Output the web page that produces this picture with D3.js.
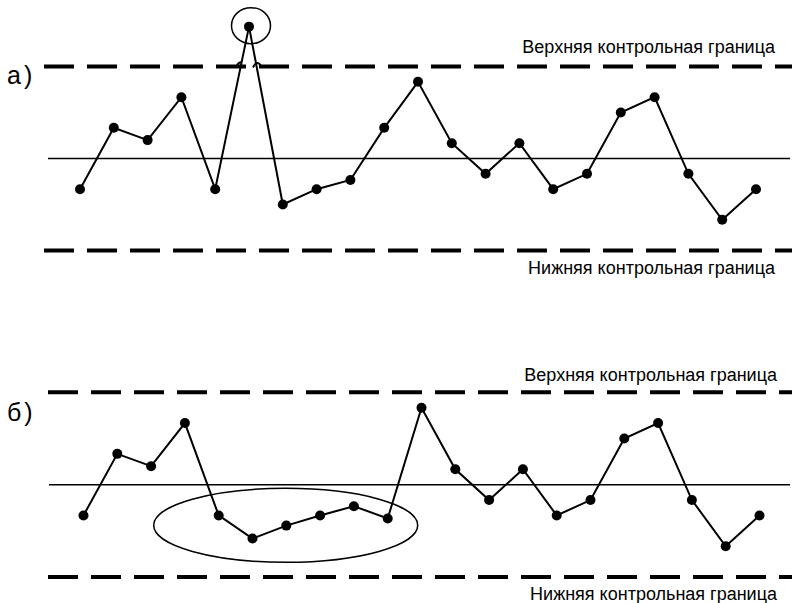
<!DOCTYPE html>
<html>
<head>
<meta charset="utf-8">
<script src="https://cdn.jsdelivr.net/npm/d3@7"></script>
<style>
html,body{margin:0;padding:0;background:#fff;}
svg{display:block;}
text{font-family:"Liberation Sans",Arial,sans-serif;fill:#000;}
</style>
</head>
<body>
<svg id="chart" width="792" height="603"></svg>
<script>
// ---- data ----
const samples = d3.range(21); // sample numbers 0..20
const valuesA = [-1, 1, 0.6, 2, -1, 4.3, -1.5, -1, -0.7, 1, 2.5, 0.5, -0.5, 0.5, -1, -0.5, 1.5, 2, -0.5, -2, -1];
const valuesB = [-1, 1, 0.6, 2, -1, -1.75, -1.33, -1, -0.7, -1.1, 2.5, 0.5, -0.5, 0.5, -1, -0.5, 1.5, 2, -0.5, -2, -1];
const upperLimit = 3, centerLine = 0, lowerLimit = -3;
const panelLabels = ["а)", "б)"];
const upperText = "Верхняя контрольная граница";
const lowerText = "Нижняя контрольная граница";

const svg = d3.select("#chart");

const panels = [
  {values: valuesA, label: panelLabels[0], x0: 80, x1: 756, yTop: 66.5, yBot: 250.5, dashStart: 44, clStart: 48,
   labelY: 84, upTextY: 53, lowTextY: 274, textX: 775,
   mark: {type: "circle", idx: 5, rx: 19.5, ry: 18, dy: -1, dx: 2}},
  {values: valuesB, label: panelLabels[1], x0: 83.5, x1: 759.5, yTop: 392.3, yBot: 577, dashStart: 48, clStart: 49,
   labelY: 421, upTextY: 381, lowTextY: 600, textX: 777,
   mark: {type: "ellipse", from: 4, to: 9, padL: 65, padR: 30}}
];

panels.forEach(p => {
  const x = d3.scaleLinear().domain([0, 20]).range([p.x0, p.x1]);
  const y = d3.scaleLinear().domain([lowerLimit, upperLimit]).range([p.yBot, p.yTop]);
  const g = svg.append("g");

  // control limits
  [upperLimit, lowerLimit].forEach(v => {
    g.append("line")
      .attr("x1", p.dashStart).attr("x2", 792)
      .attr("y1", y(v)).attr("y2", y(v))
      .attr("stroke", "#000").attr("stroke-width", 4)
      .attr("stroke-dasharray", "30,13");
  });
  // center line
  g.append("line")
    .attr("x1", p.clStart).attr("x2", 790)
    .attr("y1", y(centerLine)).attr("y2", y(centerLine))
    .attr("stroke", "#000").attr("stroke-width", 1.5);

  // texts
  g.append("text").attr("x", p.textX).attr("y", p.upTextY)
    .attr("text-anchor", "end").attr("font-size", 18).text(upperText);
  g.append("text").attr("x", p.textX).attr("y", p.lowTextY)
    .attr("text-anchor", "end").attr("font-size", 18).text(lowerText);
  g.append("text").attr("x", 7).attr("y", p.labelY)
    .attr("font-size", 25).attr("letter-spacing", 3).text(p.label);

  // series line
  const line = d3.line().x((d, i) => x(samples[i])).y(d => y(d));
  g.append("path").datum(p.values)
    .attr("d", line).attr("fill", "none")
    .attr("stroke", "#000").attr("stroke-width", 2).attr("stroke-linejoin", "miter");

  // markers
  g.selectAll("circle.pt").data(p.values).join("circle")
    .attr("class", "pt")
    .attr("cx", (d, i) => x(samples[i])).attr("cy", d => y(d))
    .attr("r", 5).attr("fill", "#000");

  // annotation
  if (p.mark.type === "circle") {
    const i = p.mark.idx;
    g.append("ellipse")
      .attr("cx", x(samples[i]) + p.mark.dx).attr("cy", y(p.values[i]) + p.mark.dy)
      .attr("rx", p.mark.rx).attr("ry", p.mark.ry)
      .attr("fill", "none").attr("stroke", "#000").attr("stroke-width", 1.5);
    // small break marks on the upper limit where the line crosses
    const yl = y(upperLimit);
    g.append("path")
      .attr("d", `M${x(samples[i]) - 12},${yl - 1} q2,-4 5,-3`)
      .attr("fill", "none").attr("stroke", "#000").attr("stroke-width", 2);
    g.append("path")
      .attr("d", `M${x(samples[i]) + 4},${yl + 1} q4,-9 9,0`)
      .attr("fill", "none").attr("stroke", "#000").attr("stroke-width", 2);
  } else {
    const xs = d3.range(p.mark.from, p.mark.to + 1).map(i => x(samples[i]));
    const ys = d3.range(p.mark.from, p.mark.to + 1).map(i => y(p.values[i]));
    const left = d3.min(xs) - p.mark.padL, right = d3.max(xs) + p.mark.padR;
    const cy = (d3.min(ys) + d3.max(ys)) / 2 + 3;
    g.append("ellipse")
      .attr("cx", (left + right) / 2).attr("cy", cy)
      .attr("rx", (right - left) / 2)
      .attr("ry", 37)
      .attr("fill", "none").attr("stroke", "#000").attr("stroke-width", 1.5);
  }
});
</script>
</body>
</html>
